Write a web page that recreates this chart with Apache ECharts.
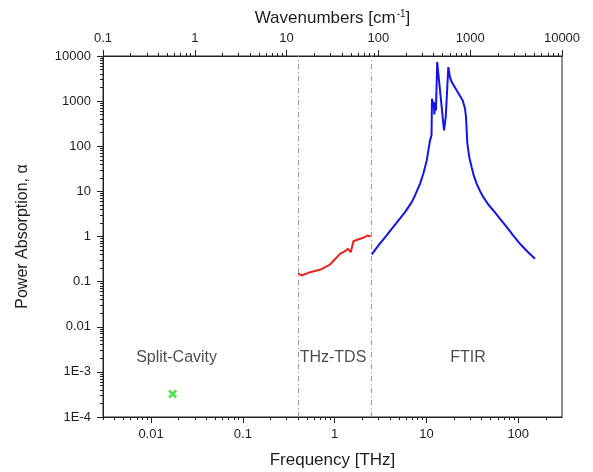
<!DOCTYPE html>
<html><head><meta charset="utf-8">
<script src="https://cdn.jsdelivr.net/npm/echarts@6/dist/echarts.min.js"></script>
<style>html,body{margin:0;padding:0;background:#fff}#c{width:593px;height:472px}</style>
</head><body><div id="c"></div>
<script>
// conversion: 1 THz = 33.356 cm^-1
const THZ_TO_CM = 33.356;
const waveMin = 0.1, waveMax = 10000;
const freqMin = waveMin / THZ_TO_CM, freqMax = waveMax / THZ_TO_CM;

const freqTicks = [0.01, 0.1, 1, 10, 100];
const freqTickLabels = ['0.01', '0.1', '1', '10', '100'];
const waveTicks = [0.1, 1, 10, 100, 1000, 10000];
const waveTickLabels = ['0.1', '1', '10', '100', '1000', '10000'];
const absTicks = [1e-4, 1e-3, 0.01, 0.1, 1, 10, 100, 1000, 10000];
const absTickLabels = ['1E-4', '1E-3', '0.01', '0.1', '1', '10', '100', '1000', '10000'];

// Split-Cavity single measurement
const splitCavityFreq = [0.0172];
const splitCavityAbs = [3.25e-4];

// THz-TDS
const tdsFreq = [0.40, 0.42, 0.438, 0.54, 0.693, 0.891, 1.145, 1.30, 1.40, 1.50, 1.60, 1.77, 2.05, 2.27, 2.47];
const tdsAbs  = [0.153, 0.142, 0.137, 0.162, 0.183, 0.239, 0.413, 0.472, 0.533, 0.449, 0.787, 0.845, 0.936, 1.05, 1.0];

// FTIR
const ftirFreq = [2.54, 2.99, 3.54, 4.19, 4.94, 5.85, 6.92, 7.51, 8.51, 9.25, 10.08, 10.49, 10.94, 11.36, 11.5, 11.8, 12.0, 12.2, 12.45, 12.7, 13.1, 14.06, 15.55, 16.23, 17.32, 18.07, 18.87, 21.39, 24.85, 26.3, 27.0, 27.9, 29.3, 31.1, 33.0, 35.3, 38.4, 41.7, 47.2, 53.6, 63.4, 75.0, 88.5, 104.6, 125.7, 152.4];
const ftirAbs  = [0.40, 0.63, 0.96, 1.48, 2.26, 3.46, 5.77, 8.11, 14.7, 24.6, 48.4, 80.7, 134, 174, 1130, 725, 980, 507, 900, 620, 7320, 1727, 224, 442, 5680, 3350, 2640, 1727, 1037, 689, 442, 114, 57.3, 34.4, 21.4, 14.7, 10.1, 7.44, 5.12, 3.77, 2.47, 1.61, 1.05, 0.69, 0.465, 0.32];

// technique boundaries (THz)
const boundaries = [0.4, 2.5];

// region annotations
const regionNames = ['Split-Cavity', 'THz-TDS', 'FTIR'];
const regionFreq = [0.019, 0.96, 28.4];
const regionAbs = [2.1e-3, 2.1e-3, 2.1e-3];

function minorTicks(lo, hi, from, to) {
  const out = [];
  for (let d = from; d <= to * 1.0001; d *= 10) {
    for (let k = 2; k <= 9; k++) {
      const v = k * d;
      if (v > lo * 1.0001 && v < hi * 0.9999) out.push(v);
    }
  }
  return out;
}
function labelFor(ticks, labels) {
  return function (v) {
    for (let i = 0; i < ticks.length; i++) {
      if (Math.abs(Math.log10(v) - Math.log10(ticks[i])) < 1e-6) return labels[i];
    }
    return '';
  };
}

const FONT = "'Liberation Sans', Arial, sans-serif";
const TXT = '#1e1e1e';
const lineCol = { color: '#222', width: 1 };

function majorAxis(extra) {
  return Object.assign({
    type: 'log', gridIndex: 0,
    axisLine: { show: true, onZero: false, lineStyle: lineCol },
    splitLine: { show: false },
    minorTick: { show: false },
  }, extra);
}
function minorAxis(extra, vals) {
  return Object.assign({
    type: 'log', gridIndex: 0,
    axisLine: { show: true, onZero: false, lineStyle: lineCol },
    axisTick: { show: true, length: 3, customValues: vals, lineStyle: lineCol },
    axisLabel: { show: true, customValues: vals, formatter: () => '', fontSize: 1 },
    splitLine: { show: false },
    minorTick: { show: false },
  }, extra);
}

const chart = echarts.init(document.getElementById('c'), null, { renderer: 'canvas' });
chart.setOption({
  animation: false,
  backgroundColor: '#fff',
  textStyle: { fontFamily: FONT },
  grid: { left: 103, right: 31, top: 56, bottom: 55, containLabel: false, outerBoundsMode: 'none',
    show: true, borderColor: '#222', borderWidth: 1, backgroundColor: 'transparent' },
  xAxis: [
    majorAxis({
      position: 'bottom', min: freqMin, max: freqMax,
      name: 'Frequency [THz]', nameLocation: 'middle', nameGap: 35,
      nameTextStyle: { fontSize: 17, color: TXT, fontFamily: FONT },
      axisTick: { show: true, length: 6, customValues: freqTicks, lineStyle: lineCol },
      axisLabel: { show: true, customValues: freqTicks, formatter: labelFor(freqTicks, freqTickLabels), fontSize: 13, color: TXT, margin: 11, fontFamily: FONT },
    }),
    majorAxis({
      position: 'top', min: waveMin, max: waveMax,
      name: 'Wavenumbers [cm{sup|-1}]', nameLocation: 'middle', nameGap: 27,
      nameTextStyle: { fontSize: 17, color: TXT, fontFamily: FONT,
        rich: { sup: { fontSize: 10, color: TXT, fontFamily: FONT, verticalAlign: 'top', padding: [0, 0, 9, 1] } } },
      axisTick: { show: true, length: 6, customValues: waveTicks, lineStyle: lineCol },
      axisLabel: { show: true, customValues: waveTicks, formatter: labelFor(waveTicks, waveTickLabels), fontSize: 13, color: TXT, margin: 11, fontFamily: FONT },
    }),
    minorAxis({ position: 'bottom', min: freqMin, max: freqMax }, minorTicks(freqMin, freqMax, 0.001, 100)),
    minorAxis({ position: 'top', min: waveMin, max: waveMax }, minorTicks(waveMin, waveMax, 0.1, 1000)),
  ],
  yAxis: [
    majorAxis({
      position: 'left', min: 1e-4, max: 1e4,
      name: 'Power Absorption, α', nameLocation: 'middle', nameGap: 72, nameRotate: 90,
      nameTextStyle: { fontSize: 16, color: TXT, fontFamily: FONT },
      axisTick: { show: true, length: 6, customValues: absTicks, lineStyle: lineCol },
      axisLabel: { show: true, customValues: absTicks, formatter: labelFor(absTicks, absTickLabels), fontSize: 13, color: TXT, margin: 12, fontFamily: FONT },
    }),
    minorAxis({ position: 'left', min: 1e-4, max: 1e4 }, minorTicks(1e-4, 1e4, 1e-4, 1000)),
  ],
  series: [
    {
      name: 'Split-Cavity', type: 'scatter', xAxisIndex: 0, yAxisIndex: 0,
      data: splitCavityFreq.map((f, i) => [f, splitCavityAbs[i]]),
      symbol: 'path://M0,2 L2,0 L5,3 L8,0 L10,2 L7,5 L10,8 L8,10 L5,7 L2,10 L0,8 L3,5 Z',
      symbolSize: 9, itemStyle: { color: '#22dd22' }, silent: true,
    },
    {
      name: 'THz-TDS', type: 'line', xAxisIndex: 0, yAxisIndex: 0,
      data: tdsFreq.map((f, i) => [f, tdsAbs[i]]),
      showSymbol: false, symbol: 'none', lineStyle: { color: '#e8231f', width: 2 }, silent: true,
      markLine: {
        silent: true, symbol: 'none', label: { show: false },
        lineStyle: { color: '#999', width: 1, type: [5, 3, 1, 3] },
        data: boundaries.map(b => ({ xAxis: b })),
      },
    },
    {
      name: 'FTIR', type: 'line', xAxisIndex: 0, yAxisIndex: 0,
      data: ftirFreq.map((f, i) => [f, ftirAbs[i]]),
      showSymbol: false, symbol: 'none', lineStyle: { color: '#1414e6', width: 2 }, silent: true,
    },
    {
      name: 'regions', type: 'scatter', xAxisIndex: 0, yAxisIndex: 0,
      data: regionNames.map((n, i) => ({ value: [regionFreq[i], regionAbs[i]], name: n })),
      symbolSize: 0, silent: true,
      label: { show: true, position: 'inside', formatter: p => p.name, fontSize: 16, color: TXT, fontFamily: FONT },
    },
  ],
});
</script>
</body></html>
